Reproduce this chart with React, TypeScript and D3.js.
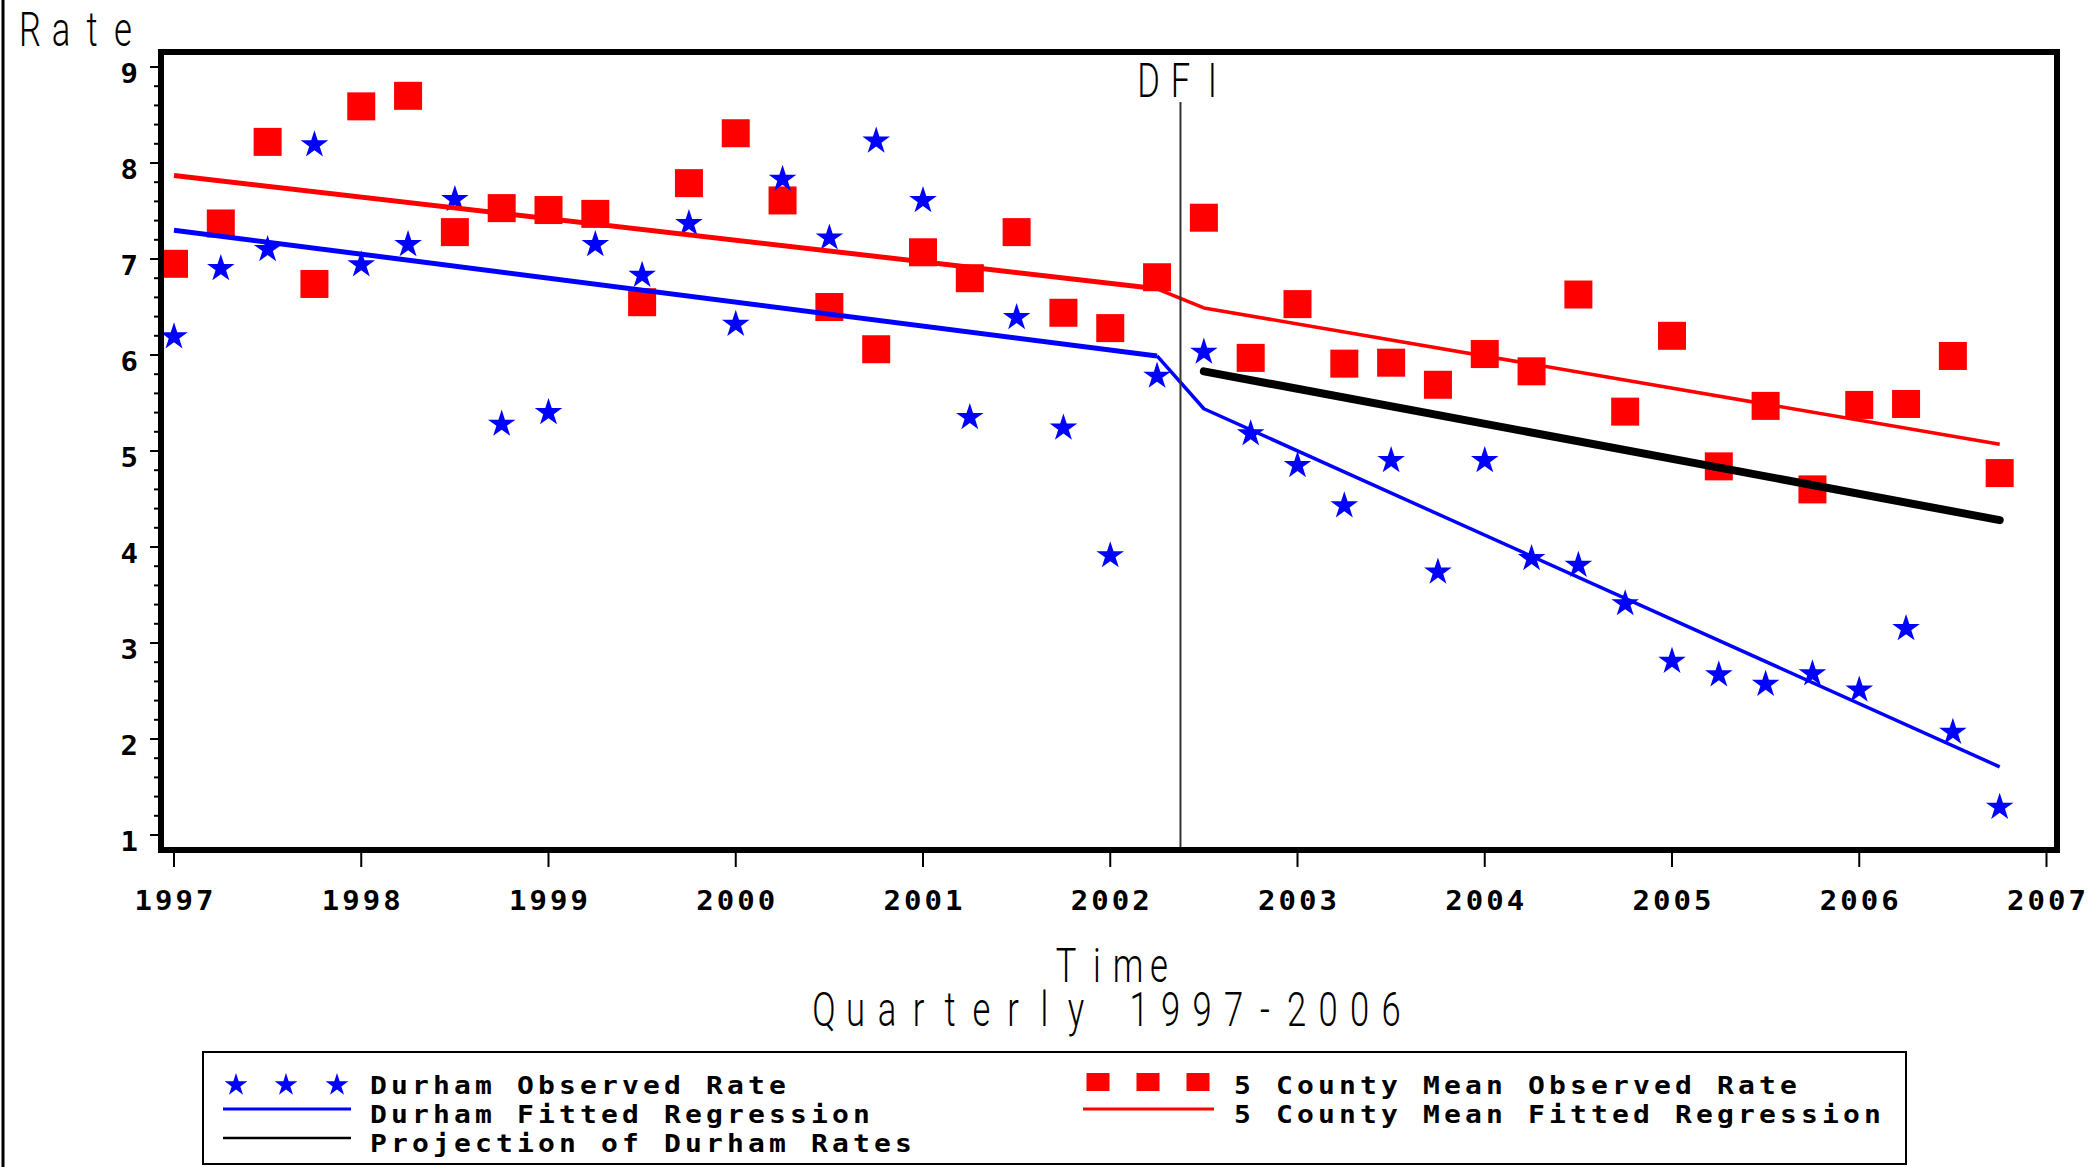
import React from 'react';
import * as d3 from 'd3';

// quarterly observation times
const quarters = [
  1997, 1997.25, 1997.5, 1997.75, 1998, 1998.25, 1998.5, 1998.75,
  1999, 1999.25, 1999.5, 1999.75, 2000, 2000.25, 2000.5, 2000.75,
  2001, 2001.25, 2001.5, 2001.75, 2002, 2002.25, 2002.5, 2002.75,
  2003, 2003.25, 2003.5, 2003.75, 2004, 2004.25, 2004.5, 2004.75,
  2005, 2005.25, 2005.5, 2005.75, 2006, 2006.25, 2006.5, 2006.75,
];

const durhamObserved = [
  6.19, 6.90, 7.10, 8.19, 6.94, 7.15, 7.62, 5.28,
  5.40, 7.15, 6.83, 7.37, 6.32, 7.83, 7.22, 8.23,
  7.61, 5.35, 6.39, 5.24, 3.91, 5.78, 6.03, 5.18,
  4.85, 4.43, 4.90, 3.74, 4.90, 3.88, 3.81, 3.41,
  2.81, 2.67, 2.57, 2.68, 2.51, 3.15, 2.07, 1.29,
];

const countyObserved = [
  6.95, 7.37, 8.22, 6.74, 8.59, 8.70, 7.28, 7.53,
  7.51, 7.47, 6.55, 7.79, 8.31, 7.61, 6.50, 6.06,
  7.07, 6.80, 7.28, 6.44, 6.28, 6.81, 7.43, 5.97,
  6.53, 5.91, 5.92, 5.69, 6.01, 5.83, 6.63, 5.41,
  6.20, 4.84, 5.47, 4.60, 5.48, 5.49, 5.99, 4.77,
];

// segmented regression vertices [time, rate]
const durhamFit: [number, number][] = [[1997, 7.30], [2002.25, 5.99], [2002.5, 5.44], [2006.75, 1.71]];
const countyFit: [number, number][] = [[1997, 7.87], [2002.25, 6.69], [2002.5, 6.49], [2006.75, 5.07]];
const durhamProjection: [number, number][] = [[2002.5, 5.83], [2006.75, 4.28]];

const interventionTime = 2002.375;
const yearTicks = [1997, 1998, 1999, 2000, 2001, 2002, 2003, 2004, 2005, 2006, 2007];
const rateTicks = [1, 2, 3, 4, 5, 6, 7, 8, 9];

const W = 2097;
const H = 1167;
const frame = { left: 161, right: 2057, top: 52, bottom: 850 };

const BLUE = '#0000ff';
const RED = '#ff0000';
const boldFont = { fontFamily: '"DejaVu Sans Mono", monospace', fontWeight: 700 as const };
const thinFont = { fontFamily: "Roboto, 'DejaVu Sans', sans-serif", fontWeight: 300 as const };
const SX = 0.72;

// x list for a thin letter-spaced row (one position per glyph, in scaled space)
const glyphXs = (text: string, x0: number, pitch: number) =>
  text.split('').map((_, i) => ((x0 + i * pitch) / SX).toFixed(2)).join(' ');

function CharRow({ text, x0, pitch, y, size = 48 }: {
  text: string; x0: number; pitch: number; y: number; size?: number;
}) {
  return (
    <text transform={`scale(${SX},1)`} x={glyphXs(text, x0, pitch)} y={y} textAnchor="middle"
      fontSize={size} {...thinFont} fill="#000">
      {text}
    </text>
  );
}

// bold monospaced text, slightly squashed vertically
function BoldText({ x, y, children, size, ls, sy, anchor = 'start' }: {
  x: number; y: number; children: React.ReactNode; size: number; ls: number; sy: number; anchor?: string;
}) {
  return (
    <text transform={`translate(${x},${y}) scale(1,${sy})`} textAnchor={anchor as any}
      fontSize={size} letterSpacing={ls} {...boldFont} fill="#000">
      {children}
    </text>
  );
}

export default function App() {
  const x = d3.scaleLinear().domain([1997, 2007]).range([174, 2046.5]);
  const y = d3.scaleLinear().domain([1, 9]).range([835, 67]);

  const line = d3.line<[number, number]>().x(d => x(d[0])).y(d => y(d[1]));
  const star = d3.symbol().type(d3.symbolStar).size(236)()!;
  const legendStar = d3.symbol().type(d3.symbolStar).size(160)()!;

  const minorTicks = y.ticks(40).filter(t => Math.abs(t - Math.round(t)) > 1e-6);
  const sq = 28;

  return (
    <svg width={W} height={H} style={{ position: 'absolute', left: 0, top: 0, display: 'block', background: '#fff' }}>
      <rect x={0} y={0} width={W} height={H} fill="#fff" />
      <line x1={3} x2={3} y1={0} y2={H} stroke="#000" strokeWidth={3} />

      {/* y axis title */}
      <CharRow text="Rate" x0={30} pitch={31} y={46} />

      {/* observed markers */}
      {countyObserved.map((v, i) => (
        <rect key={`c${i}`} x={x(quarters[i]) - sq / 2} y={y(v) - sq / 2} width={sq} height={sq} fill={RED} />
      ))}
      {durhamObserved.map((v, i) => (
        <path key={`d${i}`} d={star} transform={`translate(${x(quarters[i])},${y(v)})`} fill={BLUE} />
      ))}

      {/* fitted regressions */}
      <path d={line(countyFit.slice(0, 2))!} fill="none" stroke={RED} strokeWidth={5} />
      <path d={line(countyFit.slice(1))!} fill="none" stroke={RED} strokeWidth={3.5} strokeLinejoin="round" />
      <path d={line(durhamFit.slice(0, 2))!} fill="none" stroke={BLUE} strokeWidth={5} />
      <path d={line(durhamFit.slice(1))!} fill="none" stroke={BLUE} strokeWidth={3.5} strokeLinejoin="round" />
      <path d={line(durhamProjection)!} fill="none" stroke="#000" strokeWidth={8} strokeLinecap="round" />

      {/* intervention */}
      <line x1={x(interventionTime)} x2={x(interventionTime)} y1={102} y2={frame.bottom} stroke="#333" strokeWidth={2} />
      <CharRow text="DFI" x0={x(interventionTime) - 32} pitch={32} y={97} />

      {/* frame */}
      <rect x={frame.left} y={frame.top} width={frame.right - frame.left} height={frame.bottom - frame.top}
        fill="none" stroke="#000" strokeWidth={6} />

      {/* y axis */}
      {rateTicks.map(t => (
        <g key={`yt${t}`}>
          <line x1={150} x2={frame.left} y1={y(t)} y2={y(t)} stroke="#000" strokeWidth={2} />
          <BoldText x={138} y={y(t) + 16} size={29} ls={0} sy={0.92} anchor="end">{t}</BoldText>
        </g>
      ))}
      {minorTicks.map(t => (
        <line key={`ym${t}`} x1={154} x2={frame.left} y1={y(t)} y2={y(t)} stroke="#000" strokeWidth={2} />
      ))}

      {/* x axis */}
      {yearTicks.map(t => (
        <g key={`xt${t}`}>
          <line x1={x(t)} x2={x(t)} y1={frame.bottom} y2={867} stroke="#000" strokeWidth={2} />
          <BoldText x={x(t) + 1.5} y={910} size={29} ls={3} sy={0.92} anchor="middle">{t}</BoldText>
        </g>
      ))}

      {/* x axis title, two lines */}
      <text transform={`scale(${SX},1)`} textAnchor="middle" fontSize={48} {...thinFont} fill="#000">
        <tspan x={glyphXs('Time', 1066, 31)} y={982}>Time</tspan>
        <tspan x={glyphXs('Quarterly 1997-2006', 824, 31.5)} y={1026}>Quarterly 1997-2006</tspan>
      </text>

      {/* legend */}
      <rect x={203} y={1052} width={1703} height={112} fill="none" stroke="#000" strokeWidth={2} />
      <BoldText x={370} y={1094} size={28} ls={4.15} sy={0.88}>Durham Observed Rate</BoldText>
      <BoldText x={370} y={1123} size={28} ls={4.15} sy={0.88}>Durham Fitted Regression</BoldText>
      <BoldText x={370} y={1152} size={28} ls={4.15} sy={0.88}>Projection of Durham Rates</BoldText>
      <BoldText x={1234} y={1094} size={28} ls={4.15} sy={0.88}>5 County Mean Observed Rate</BoldText>
      <BoldText x={1234} y={1123} size={28} ls={4.15} sy={0.88}>5 County Mean Fitted Regression</BoldText>
      {[236, 286, 337].map(cx => (
        <path key={`ls${cx}`} d={legendStar} transform={`translate(${cx},1085)`} fill={BLUE} />
      ))}
      <line x1={223} x2={351} y1={1109} y2={1109} stroke={BLUE} strokeWidth={3} />
      <line x1={223} x2={351} y1={1138} y2={1138} stroke="#000" strokeWidth={2.5} />
      {[1098, 1148, 1198].map(cx => (
        <rect key={`lq${cx}`} x={cx - 11.5} y={1073} width={23} height={18} fill={RED} />
      ))}
      <line x1={1083} x2={1214} y1={1109} y2={1109} stroke={RED} strokeWidth={3} />
    </svg>
  );
}
